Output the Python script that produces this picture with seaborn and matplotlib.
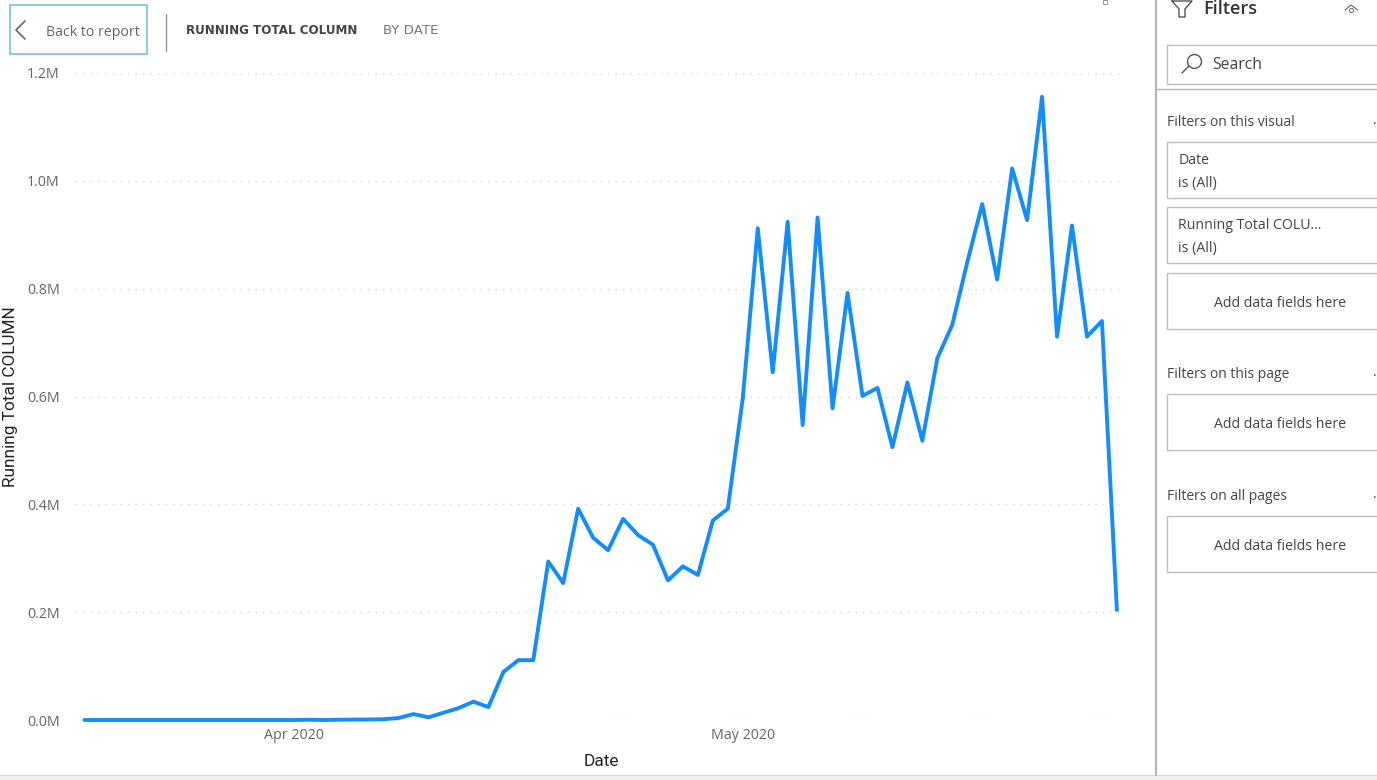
import pandas as pd
import matplotlib
matplotlib.use('Agg')
import matplotlib.pyplot as plt
import matplotlib.dates as mdates
from matplotlib.patches import Rectangle
from matplotlib.ticker import FuncFormatter
import seaborn as sns

W, H = 1377, 780

start_date = '2020-03-18'
running_total = [0, 0, 0, 0, 0, 0, 0, 0, 0, 0,
                 0, 0, 0, 0, 0, 500, 0, 500, 800, 1000,
                 1500, 3700, 11000, 5000, 13500, 22000, 34000, 24000, 89000, 111000,
                 111000, 294000, 254000, 392000, 338000, 315000, 373000, 343000, 325000, 259000,
                 285000, 269000, 370000, 392000, 597000, 912000, 645000, 924000, 547000, 932000,
                 578000, 792000, 601000, 616000, 506000, 626000, 518000, 671000, 733000, 849000,
                 957000, 817000, 1023000, 927000, 1156000, 711000, 917000, 711000, 740000, 204000]
y_ticks = [0, 200000, 400000, 600000, 800000, 1000000, 1200000]

filter_sections = ['Filters on this visual', 'Filters on this page', 'Filters on all pages']

sns.set_style('white')
plt.rcParams['font.family'] = ['Open Sans', 'DejaVu Sans']

df = pd.DataFrame({'Date': pd.date_range(start_date, periods=len(running_total)),
                   'Running Total COLUMN': running_total})

fig = plt.figure(figsize=(W / 100, H / 100), dpi=100)
ax = fig.add_axes([75 / W, 1 - 720 / H, 1050 / W, 647 / H])

sns.lineplot(data=df, x='Date', y='Running Total COLUMN', color='#118DFF', linewidth=2.8,
             ax=ax, clip_on=False, solid_joinstyle='round')

ax.set_ylim(0, 1200000)
ax.set_xlim(df['Date'].iloc[0] - pd.Timedelta(hours=15), df['Date'].iloc[-1] + pd.Timedelta(hours=13))
ax.set_yticks(y_ticks)
ax.yaxis.set_major_formatter(FuncFormatter(lambda v, _: f'{v / 1e6:.1f}M'))
ax.xaxis.set_major_locator(mdates.MonthLocator())
ax.xaxis.set_major_formatter(mdates.DateFormatter('%b %Y'))
ax.tick_params(axis='y', length=0, pad=11, labelsize=10.3, labelcolor='#666666')
ax.tick_params(axis='x', length=0, pad=5.5, labelsize=10.3, labelcolor='#666666')
ax.grid(axis='y', color='#d2d2d2', linewidth=1, linestyle=(0, (1, 4.4)))
ax.set_axisbelow(True)
sns.despine(ax=ax, left=True, bottom=True)
ax.set_xlabel('Date', fontsize=12.5, color='#252423', family=['Roboto', 'DejaVu Sans'])
ax.set_ylabel('Running Total COLUMN', fontsize=12.4, color='#252423', family=['Roboto', 'DejaVu Sans'])
ax.xaxis.set_label_coords(0.501, -34 / 647)
ax.yaxis.set_label_coords(-57 / 1050, 0.5)

# рамка отчета поверх графика, координаты в пикселях
ui = fig.add_axes([0, 0, 1, 1], zorder=5)
ui.set_xlim(0, W)
ui.set_ylim(H, 0)
ui.axis('off')
ui.patch.set_alpha(0)

GREY = '#bdbdbd'
TEXT = '#444444'


def box(x, y, w, h, ec=GREY, lw=1.0):
    ui.add_patch(Rectangle((x, y), w, h, fc='none', ec=ec, lw=lw, clip_on=True))


def label(x, y, s, size=10.2, color=TEXT, **kw):
    ui.text(x, y, s, fontsize=size, color=color, va='center', **kw)


# шапка
box(9.5, 4.5, 137, 49, ec='#62c3d3', lw=1.1)
ui.plot([25, 16, 25], [21, 30, 39], color='#666666', lw=1.2)
label(46, 32, 'Back to report', color='#666666')
ui.plot([166, 166], [14, 51], color='#8a8a8a', lw=0.9)
label(186, 31, 'RUNNING TOTAL COLUMN', size=8.6, color='#444444', fontweight='bold',
      family=['DejaVu Sans'])
label(383, 31, 'BY DATE', size=9.6, color='#777777', family=['DejaVu Sans'])
ui.add_patch(Rectangle((1103, 0), 4, 4, fc='none', ec='#999999', lw=0.7))

# панель фильтров
ui.add_patch(Rectangle((0, 775), W, 5, fc='#f0f0f0', ec='none'))
ui.plot([0, W], [775, 775], color='#d8d8d8', lw=0.8)
ui.plot([1156, 1156], [0, 775], color='#b4b4b4', lw=1.6)
ui.plot([1157, W], [89, 89], color='#b4b4b4', lw=1.0)

ui.plot([1172, 1192, 1185, 1185, 1179, 1179, 1172], [1, 1, 9, 17, 17, 9, 1], color='#555555', lw=1.0)
label(1203, 9, 'Filters', size=13, color='#333333', fontweight='semibold')
ui.plot([1345, 1351, 1358], [10, 5, 10], color='#666666', lw=0.8)
ui.plot([1351], [9.5], marker='o', ms=3, mfc='none', mec='#666666', mew=0.7)

box(1167, 45, 230, 39)
ui.plot([1194], [61], marker='o', ms=10, mfc='none', mec='#555555', mew=1.0)
ui.plot([1182, 1189], [73, 66], color='#555555', lw=1.0)
label(1212, 65, 'Search', size=11.3, color='#444444')

label(1167, 122.5, filter_sections[0], size=10)
box(1167, 142, 230, 56)
label(1178.5, 160.5, 'Date')
label(1178.5, 183.5, 'is (All)')
box(1167, 207, 230, 56)
label(1178.5, 225.5, 'Running Total COLU...')
label(1178.5, 248.5, 'is (All)')

add_box_tops = [273, 394, 516]
for top in add_box_tops:
    box(1167, top, 230, 56)
    label(1280, top + 30.5, 'Add data fields here', ha='center')

label(1167, 374.5, filter_sections[1], size=10)
label(1167, 496.5, filter_sections[2], size=10)
for y_dot in [121, 373, 495]:
    label(1373, y_dot, '.', size=10)

fig.savefig('out.png', dpi=100)
plt.close(fig)
